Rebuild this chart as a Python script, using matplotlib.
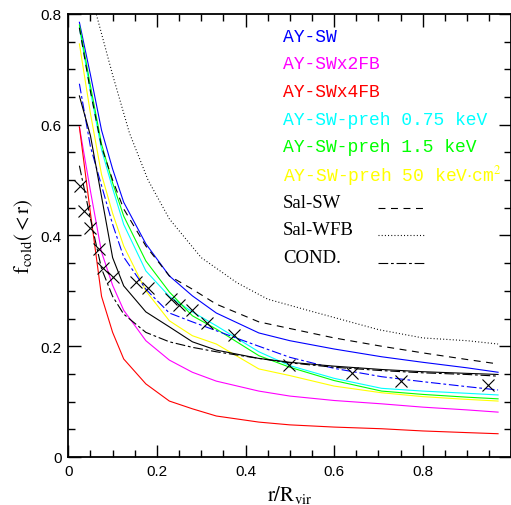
import matplotlib
matplotlib.use('Agg')
import matplotlib.pyplot as plt
from matplotlib.ticker import MultipleLocator

# radius bins (r/Rvir) used by all model curves
r = [0.025, 0.05, 0.075, 0.1, 0.125, 0.175, 0.228, 0.28, 0.334, 0.43,
     0.5, 0.6, 0.707, 0.8, 0.9, 0.97]

ay_sw      = [0.785, 0.69, 0.59, 0.52, 0.46, 0.385, 0.327, 0.291, 0.26, 0.224,
              0.21, 0.195, 0.181, 0.171, 0.161, 0.153]
ay_sw2fb   = [0.596, 0.48, 0.37, 0.31, 0.265, 0.21, 0.175, 0.153, 0.137, 0.119,
              0.11, 0.102, 0.096, 0.09, 0.085, 0.081]
ay_sw4fb   = [0.596, 0.44, 0.29, 0.225, 0.177, 0.132, 0.101, 0.087, 0.074, 0.063,
              0.058, 0.054, 0.051, 0.047, 0.044, 0.042]
preh_075   = [0.775, 0.66, 0.555, 0.485, 0.42, 0.336, 0.29, 0.262, 0.237, 0.19,
              0.165, 0.142, 0.124, 0.119, 0.115, 0.112]
preh_15    = [0.78, 0.67, 0.565, 0.495, 0.435, 0.354, 0.298, 0.255, 0.231, 0.183,
              0.162, 0.138, 0.119, 0.113, 0.108, 0.105]
preh_50    = [0.746, 0.62, 0.51, 0.44, 0.381, 0.3, 0.246, 0.219, 0.204, 0.159,
              0.147, 0.128, 0.116, 0.109, 0.104, 0.101]
sal_sw     = [0.775, 0.66, 0.56, 0.5, 0.448, 0.381, 0.327, 0.303, 0.276, 0.244,
              0.232, 0.215, 0.2, 0.188, 0.176, 0.168]
cond       = [0.526, 0.43, 0.34, 0.29, 0.258, 0.225, 0.208, 0.198, 0.19, 0.178,
              0.17, 0.162, 0.156, 0.152, 0.149, 0.146]
black_sol  = [0.652, 0.58, 0.47, 0.36, 0.309, 0.262, 0.235, 0.208, 0.193, 0.178,
              0.171, 0.164, 0.158, 0.154, 0.151, 0.149]
blue_dd    = [0.674, 0.56, 0.49, 0.42, 0.361, 0.303, 0.26, 0.244, 0.228, 0.2,
              0.18, 0.16, 0.145, 0.136, 0.127, 0.121]

r_wfb   = [0.05, 0.063, 0.1, 0.138, 0.18, 0.228, 0.3, 0.38, 0.45, 0.54,
           0.7, 0.8, 0.9, 0.97]
sal_wfb = [0.84, 0.8, 0.69, 0.585, 0.5, 0.43, 0.36, 0.315, 0.285, 0.265,
           0.23, 0.215, 0.21, 0.204]

# crosses (observational points)
obs_r = [0.026, 0.035, 0.05, 0.069, 0.078, 0.1, 0.152, 0.179, 0.232, 0.249,
         0.28, 0.313, 0.374, 0.498, 0.64, 0.75, 0.947]
obs_f = [0.49, 0.444, 0.413, 0.375, 0.341, 0.325, 0.316, 0.306, 0.285, 0.275,
         0.265, 0.242, 0.22, 0.166, 0.152, 0.137, 0.13]

plt.rcParams['lines.scale_dashes'] = False
plt.rcParams['mathtext.fontset'] = 'stix'

fig = plt.figure(figsize=(5.11, 5.06), dpi=100)
ax = fig.add_axes([0.1337, 0.0949, 0.867, 0.8755])

lw = 0.8
dashed = (0, (5, 4))
dotted = (0, (0.7, 1.6))
dashdot = (0, (7, 2, 2, 2))

ax.plot(r, ay_sw, color='#0000ff', lw=lw)
ax.plot(r, ay_sw2fb, color='#ff00ff', lw=lw)
ax.plot(r, ay_sw4fb, color='#ff0000', lw=lw)
ax.plot(r, preh_075, color='#00ffff', lw=lw)
ax.plot(r, preh_15, color='#00ff00', lw=lw)
ax.plot(r, preh_50, color='#ffff00', lw=lw)
ax.plot(r, blue_dd, color='#0000ff', lw=lw, ls=dashdot)
ax.plot(r, black_sol, color='black', lw=lw)
ax.plot(r, cond, color='black', lw=lw, ls=dashdot)
ax.plot(r, sal_sw, color='black', lw=lw, ls=dashed)
ax.plot(r_wfb, sal_wfb, color='black', lw=lw, ls=dotted)
ax.plot(obs_r, obs_f, ls='none', marker='x', ms=9, mew=0.8, color='black')

# legend drawn as text rows
labels = ['AY-SW', 'AY-SWx2FB', 'AY-SWx4FB', 'AY-SW-preh 0.75 keV',
          'AY-SW-preh 1.5 keV', 'AY-SW-preh 50 keV$\\cdot$cm$^2$']
colors = ['#0000ff', '#ff00ff', '#ff0000', '#00ffff', '#00ff00', '#ffff00']
y0 = 0.76
for i, (lab, c) in enumerate(zip(labels, colors)):
    ax.text(0.485, y0 - 0.05 * i, lab, color=c, fontsize=13,
            family='Liberation Mono', va='center')
black_labels = ['Sal-SW', 'Sal-WFB', 'COND.']
black_styles = [dashed, dotted, dashdot]
for j, (lab, st) in enumerate(zip(black_labels, black_styles)):
    yy = y0 - 0.05 * (6 + j)
    ax.text(0.485, yy, lab, color='black', fontsize=13.5,
            family='Liberation Serif', va='center')
    ax.plot([0.70, 0.803], [yy - 0.01, yy - 0.01], color='black', lw=lw, ls=st)

ax.set_xlim(0, 1)
ax.set_ylim(0, 0.8)
ax.xaxis.set_major_locator(MultipleLocator(0.2))
ax.xaxis.set_minor_locator(MultipleLocator(0.05))
ax.yaxis.set_major_locator(MultipleLocator(0.2))
ax.yaxis.set_minor_locator(MultipleLocator(0.05))
ax.set_xticks([0, 0.2, 0.4, 0.6, 0.8], ['0', '0.2', '0.4', '0.6', '0.8'])
ax.set_yticks([0, 0.2, 0.4, 0.6, 0.8], ['0', '0.2', '0.4', '0.6', '0.8'])
ax.tick_params(which='both', direction='in', top=True, right=True, width=1)
ax.tick_params(which='major', length=9, labelsize=11, pad=5)
ax.tick_params(which='minor', length=5)
for lab in ax.get_xticklabels() + ax.get_yticklabels():
    lab.set_family('Liberation Sans')
for s in ax.spines.values():
    s.set_linewidth(1.3)

ax.set_xlabel(r'$\mathrm{r/R_{vir}}$', fontsize=15, labelpad=4)
ax.set_ylabel(r'$\mathrm{f_{cold}(<r)}$', fontsize=15, labelpad=4)

fig.savefig('out.png', dpi=100)
